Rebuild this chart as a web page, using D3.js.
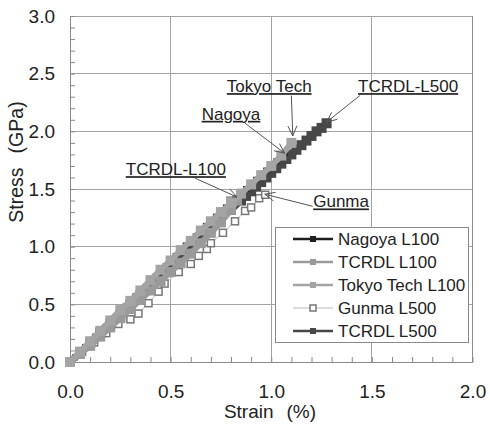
<!DOCTYPE html>
<html><head><meta charset="utf-8">
<script src="https://cdn.jsdelivr.net/npm/d3@7"></script>
<style>
body{margin:0;background:#fff}
svg{display:block;font-family:"Liberation Sans",Arial,Helvetica,sans-serif}
</style>
</head><body>
<svg id="chart" width="490" height="424"></svg>
<script>
// ---------- data ----------
const xTickValues = [0, 0.5, 1.0, 1.5, 2.0];
const yTickValues = [0, 0.5, 1.0, 1.5, 2.0, 2.5, 3.0];
const xTitle = ["Strain", "(%)"];
const yTitle = ["Stress", "(GPa)"];

const seriesNames = ["Nagoya L100", "TCRDL L100", "Tokyo Tech L100", "Gunma L500", "TCRDL L500"];

const nagoyaStrain = [0,0.025,0.075,0.125,0.175,0.225,0.275,0.325,0.375,0.425,0.475,0.525,0.575,0.625,0.675,0.725,0.775,0.825,0.875,0.925,0.975,1.025,1.067];
const nagoyaStress = [0,0.04,0.13,0.22,0.30,0.39,0.48,0.57,0.65,0.74,0.83,0.92,1.01,1.09,1.18,1.26,1.34,1.42,1.50,1.58,1.66,1.74,1.81];

const tcrdl100Strain = [0,0.05,0.10,0.15,0.20,0.25,0.30,0.35,0.40,0.45,0.50,0.55,0.60,0.65,0.70,0.75,0.80,0.83];
const tcrdl100Stress = [0,0.07,0.14,0.22,0.30,0.38,0.46,0.54,0.62,0.70,0.78,0.86,0.94,1.03,1.12,1.21,1.32,1.40];

const tokyoStrain = [0,0.05,0.10,0.15,0.20,0.25,0.30,0.35,0.40,0.45,0.50,0.55,0.60,0.65,0.70,0.75,0.80,0.85,0.90,0.95,1.00,1.05,1.10];
const tokyoStress = [0,0.09,0.18,0.27,0.36,0.45,0.53,0.62,0.71,0.80,0.88,0.97,1.05,1.14,1.22,1.30,1.38,1.46,1.54,1.62,1.70,1.79,1.90];

const gunmaStrain = [0,0.06,0.12,0.18,0.24,0.30,0.34,0.39,0.44,0.47,0.54,0.60,0.64,0.68,0.70,0.76,0.82,0.87,0.90,0.94,0.97];
const gunmaStress = [0,0.09,0.17,0.25,0.33,0.37,0.42,0.51,0.61,0.68,0.78,0.85,0.92,0.98,1.03,1.12,1.22,1.31,1.34,1.42,1.45];

const tcrdl500Strain = [0,0.05,0.10,0.15,0.20,0.25,0.30,0.35,0.40,0.45,0.50,0.55,0.60,0.65,0.70,0.75,0.80,0.85,0.875,0.90,0.925,0.95,0.975,1.00,1.025,1.05,1.075,1.10,1.125,1.15,1.175,1.20,1.225,1.25,1.275];
const tcrdl500Stress = [0,0.08,0.16,0.25,0.33,0.41,0.50,0.58,0.66,0.75,0.83,0.91,0.99,1.08,1.16,1.24,1.32,1.40,1.44,1.48,1.52,1.56,1.60,1.64,1.68,1.72,1.76,1.80,1.84,1.88,1.92,1.96,2.00,2.03,2.07];

// annotations: label, text anchor point (strain, stress), arrow start, arrow tip
const annLabels = ["Tokyo Tech", "TCRDL-L500", "Nagoya", "TCRDL-L100", "Gunma"];
const annTextAt = [[0.99,2.34],[1.68,2.34],[0.80,2.10],[0.526,1.62],[1.347,1.34]];
const annFrom   = [[1.100,2.31],[1.44,2.31],[0.87,2.07],[0.62,1.595],[1.206,1.35]];
const annTo     = [[1.107,1.96],[1.275,2.08],[1.067,1.81],[0.83,1.43],[0.968,1.455]];

// ---------- styles ----------
const styles = {
  "Nagoya L100":     {line:"#1e1e1e", fill:"#1e1e1e", stroke:"none", lw:2.5, ms:6, hollow:false},
  "TCRDL L100":      {line:"#9a9a9a", fill:"#9a9a9a", stroke:"none", lw:6, ms:10, hollow:false},
  "Tokyo Tech L100": {line:"#a4a4a4", fill:"#a4a4a4", stroke:"none", lw:6, ms:10, hollow:false},
  "Gunma L500":      {line:"#d0d0d0", fill:"#ffffff", stroke:"#777777", lw:1.2, ms:7, hollow:true},
  "TCRDL L500":      {line:"#474747", fill:"#474747", stroke:"none", lw:7, ms:10, hollow:false}
};
const legendStyle = {
  "Nagoya L100":{lw:2.5,ms:6}, "TCRDL L100":{lw:2.5,ms:6}, "Tokyo Tech L100":{lw:2.5,ms:6},
  "Gunma L500":{lw:1.5,ms:6}, "TCRDL L500":{lw:2.5,ms:6}
};

const dataMap = {
  "Nagoya L100": d3.zip(nagoyaStrain, nagoyaStress),
  "TCRDL L100": d3.zip(tcrdl100Strain, tcrdl100Stress),
  "Tokyo Tech L100": d3.zip(tokyoStrain, tokyoStress),
  "Gunma L500": d3.zip(gunmaStrain, gunmaStress),
  "TCRDL L500": d3.zip(tcrdl500Strain, tcrdl500Stress)
};
const drawOrder = ["Gunma L500", "TCRDL L500", "Nagoya L100", "TCRDL L100", "Tokyo Tech L100"];

// ---------- layout ----------
const svg = d3.select("#chart");
const x = d3.scaleLinear().domain([0, 2]).range([70, 472.5]);
const y = d3.scaleLinear().domain([0, 3]).range([362, 16]);
const gridCol = "#a3a3a3", axisCol = "#8a8a8a", textCol = "#222";

// gridlines
const grid = svg.append("g");
grid.selectAll("line.h").data(yTickValues.filter(v => v > 0)).join("line")
  .attr("x1", x(0)).attr("x2", x(2)).attr("y1", d => y(d)).attr("y2", d => y(d))
  .attr("stroke", gridCol).attr("stroke-width", 1).attr("shape-rendering", "crispEdges");
grid.selectAll("line.v").data(xTickValues.filter(v => v > 0)).join("line")
  .attr("x1", d => x(d)).attr("x2", d => x(d)).attr("y1", y(0)).attr("y2", y(3))
  .attr("stroke", gridCol).attr("stroke-width", 1).attr("shape-rendering", "crispEdges");

// minor ticks (inside)
const minorY = d3.range(0, 30.5, 1).map(v => v / 10);
const minorX = d3.range(0, 20.5, 1).map(v => v / 10);
svg.append("g").attr("transform", `translate(${x(0)},0)`)
  .call(d3.axisRight(y).tickValues(minorY).tickSize(5).tickFormat(""))
  .call(g => g.selectAll("line").attr("stroke", axisCol))
  .call(g => g.select(".domain").remove());
svg.append("g").attr("transform", `translate(0,${y(0)})`)
  .call(d3.axisTop(x).tickValues(minorX).tickSize(5).tickFormat(""))
  .call(g => g.selectAll("line").attr("stroke", axisCol))
  .call(g => g.select(".domain").remove());

// axes with labels
svg.append("g").attr("transform", `translate(${x(0)},0)`)
  .call(d3.axisLeft(y).tickValues(yTickValues).tickFormat(d3.format(".1f")).tickSize(0).tickPadding(15))
  .call(g => g.select(".domain").attr("stroke", axisCol))
  .call(g => g.selectAll("text").attr("font-size", 19).attr("fill", textCol).attr("font-family", "Liberation Sans, Arial, sans-serif"));
svg.append("g").attr("transform", `translate(0,${y(0)})`)
  .call(d3.axisBottom(x).tickValues(xTickValues).tickFormat(d3.format(".1f")).tickSize(0).tickPadding(23))
  .call(g => g.select(".domain").attr("stroke", axisCol))
  .call(g => g.selectAll("text").attr("font-size", 19).attr("fill", textCol).attr("font-family", "Liberation Sans, Arial, sans-serif"));
// right frame
svg.append("line").attr("x1", x(2)).attr("x2", x(2)).attr("y1", y(0)).attr("y2", y(3))
  .attr("stroke", axisCol).attr("shape-rendering", "crispEdges");

// series
const lineGen = d3.line().x(d => x(d[0])).y(d => y(d[1]));
drawOrder.forEach(name => {
  const st = styles[name], data = dataMap[name];
  const g = svg.append("g");
  g.append("path").datum(data).attr("d", lineGen).attr("fill", "none")
    .attr("stroke", st.line).attr("stroke-width", st.lw).attr("stroke-linejoin", "round");
  g.selectAll("rect").data(data).join("rect")
    .attr("x", d => x(d[0]) - st.ms / 2).attr("y", d => y(d[1]) - st.ms / 2)
    .attr("width", st.ms).attr("height", st.ms)
    .attr("fill", st.fill).attr("stroke", st.stroke).attr("stroke-width", st.hollow ? 1.5 : 0);
});

// annotations
const ann = svg.append("g");
annLabels.forEach((lab, i) => {
  const [fx, fy] = [x(annFrom[i][0]), y(annFrom[i][1])];
  const [tx, ty] = [x(annTo[i][0]), y(annTo[i][1])];
  ann.append("line").attr("x1", fx).attr("y1", fy).attr("x2", tx).attr("y2", ty)
    .attr("stroke", "#555").attr("stroke-width", 1);
  const ang = Math.atan2(ty - fy, tx - fx), L = 11, h = 0.42;
  [ang + Math.PI - h, ang + Math.PI + h].forEach(a => {
    ann.append("line").attr("x1", tx).attr("y1", ty)
      .attr("x2", tx + L * Math.cos(a)).attr("y2", ty + L * Math.sin(a))
      .attr("stroke", "#555").attr("stroke-width", 1);
  });
  ann.append("text").attr("x", x(annTextAt[i][0])).attr("y", y(annTextAt[i][1]))
    .attr("text-anchor", "middle").attr("font-size", 17).attr("fill", textCol)
    .attr("text-decoration", "underline").text(lab);
});

// legend
const lg = svg.append("g");
lg.append("rect").attr("x", 275.5).attr("y", 227.5).attr("width", 193).attr("height", 115)
  .attr("fill", "#fff").attr("stroke", axisCol);
seriesNames.forEach((name, i) => {
  const st = styles[name], ls = legendStyle[name], cy = 239 + i * 23;
  lg.append("line").attr("x1", 293).attr("x2", 333).attr("y1", cy).attr("y2", cy)
    .attr("stroke", st.line).attr("stroke-width", ls.lw);
  lg.append("rect").attr("x", 313 - ls.ms / 2).attr("y", cy - ls.ms / 2).attr("width", ls.ms).attr("height", ls.ms)
    .attr("fill", st.fill).attr("stroke", st.stroke).attr("stroke-width", st.hollow ? 1.5 : 0);
  lg.append("text").attr("x", 338).attr("y", cy).attr("dy", "0.35em")
    .attr("font-size", 17).attr("fill", textCol).text(name);
});

// axis titles
const xt = svg.append("text").attr("x", 270).attr("y", 418).attr("text-anchor", "middle")
  .attr("font-size", 19).attr("fill", textCol);
xt.append("tspan").text(xTitle[0]);
xt.append("tspan").attr("dx", 13).text(xTitle[1]);
const yt = svg.append("text").attr("transform", "translate(23,162) rotate(-90)")
  .attr("text-anchor", "middle").attr("font-size", 19.5).attr("fill", textCol);
yt.append("tspan").text(yTitle[0]);
yt.append("tspan").attr("dx", 14).text(yTitle[1]);
</script>
</body></html>
